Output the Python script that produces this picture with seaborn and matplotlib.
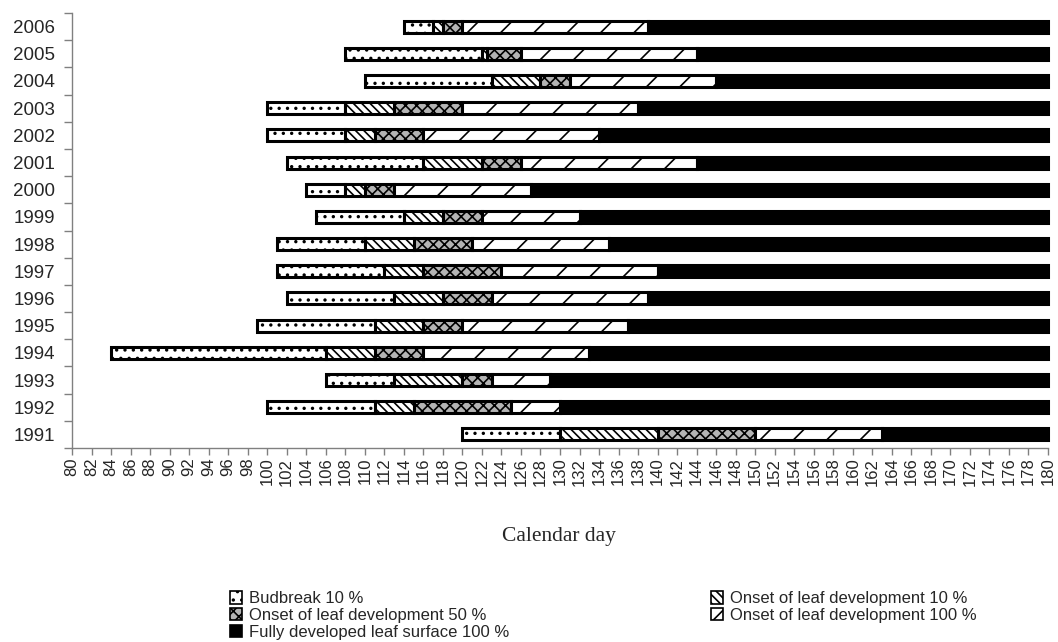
import numpy as np
import matplotlib
matplotlib.use("Agg")
import matplotlib.pyplot as plt
from matplotlib.ticker import FixedLocator
import seaborn as sns

# ---------------- data (top to bottom as in the chart) ----------------
years = ["2006", "2005", "2004", "2003", "2002", "2001", "2000", "1999",
         "1998", "1997", "1996", "1995", "1994", "1993", "1992", "1991"]
budbreak_10 = [114, 108, 110, 100, 100, 102, 104, 105, 101, 101, 102, 99, 84, 106, 100, 120]
onset_10 = [117, 122, 123, 108, 108, 116, 108, 114, 110, 112, 113, 111, 106, 113, 111, 130]
onset_50 = [118, 122.5, 128, 113, 111, 122, 110, 118, 115, 116, 118, 116, 111, 120, 115, 140]
onset_100 = [120, 126, 131, 120, 116, 126, 113, 122, 121, 124, 123, 120, 116, 123, 125, 150]
fully_100 = [139, 144, 146, 138, 134, 144, 127, 132, 135, 140, 139, 137, 133, 129, 130, 163]
axis_end = 180

series_names = ["Budbreak 10 %", "Onset of leaf development 10 %",
                "Onset of leaf development 50 %", "Onset of leaf development 100 %",
                "Fully developed leaf surface 100 %"]
x_ticks = list(range(80, 181, 2))

# ---------------- style ----------------
sns.set_style("white")
plt.rcParams["font.family"] = ["Liberation Sans", "DejaVu Sans"]
plt.rcParams["hatch.linewidth"] = 1.2

fig = plt.figure(figsize=(10.58, 6.42), dpi=100)
ax = fig.add_axes([72 / 1058, 1 - 448 / 642, (1048 - 72) / 1058, (448 - 13) / 642])

bounds = [budbreak_10, onset_10, onset_50, onset_100, fully_100,
          [axis_end] * len(years)]
styles = [
    dict(color="white", hatch=".."),
    dict(color="white", hatch="\\\\\\\\"),
    dict(color="#b4b4b4", hatch="xxx"),
    dict(color="white", hatch="/"),
    dict(color="black", hatch=None),
]

for i, name in enumerate(series_names):
    start = np.array(bounds[i], dtype=float)
    end = np.array(bounds[i + 1], dtype=float)
    sns.barplot(x=end - start, y=years, order=years, orient="y", ax=ax,
                left=start, width=0.44, saturation=1, errorbar=None,
                edgecolor="black", linewidth=2.2, label=name,
                hatch=styles[i]["hatch"], color=styles[i]["color"],
                clip_on=False)

h, l = ax.get_legend_handles_labels()
if ax.get_legend() is not None:
    ax.get_legend().remove()

ax.set_xlim(80, 180)
ax.set_ylim(len(years) - 0.5, -0.5)
ax.set_xlabel("")
ax.set_ylabel("")

# x axis ticks
ax.set_xticks(x_ticks)
ax.set_xticklabels([str(t) for t in x_ticks], rotation=90, fontsize=12)
ax.tick_params(axis="x", which="major", direction="out", length=5,
               width=1, color="#808080", pad=2, bottom=True)

# y axis: labels at centres, tick marks between categories
ax.set_yticks(range(len(years)))
ax.set_yticklabels(years, fontsize=13.5)
ax.tick_params(axis="y", which="major", length=0, pad=12, left=True)
ax.yaxis.set_minor_locator(FixedLocator(np.arange(-0.5, len(years), 1.0)))
ax.tick_params(axis="y", which="minor", direction="out", length=6,
               width=1, color="#808080", left=True)

for side in ["top", "right"]:
    ax.spines[side].set_visible(False)
for side in ["left", "bottom"]:
    ax.spines[side].set_color("#808080")
    ax.spines[side].set_linewidth(1.0)

fig.text(0.528, 1 - 537 / 642, "Calendar day", ha="center", va="center",
         fontsize=15.5, family=["Liberation Serif", "DejaVu Serif"])

order = [0, 2, 4, 1, 3]
leg = fig.legend([h[k] for k in order], [l[k] for k in order], ncol=2,
                 loc="lower center", bbox_to_anchor=(0.570, -6 / 642),
                 frameon=False, fontsize=12, handlelength=0.75,
                 handleheight=0.75, handletextpad=0.4, labelspacing=0.1,
                 columnspacing=12.1, borderpad=0)
for p in leg.get_patches():
    p.set_linewidth(1.2)

fig.savefig("out.png", dpi=100)
